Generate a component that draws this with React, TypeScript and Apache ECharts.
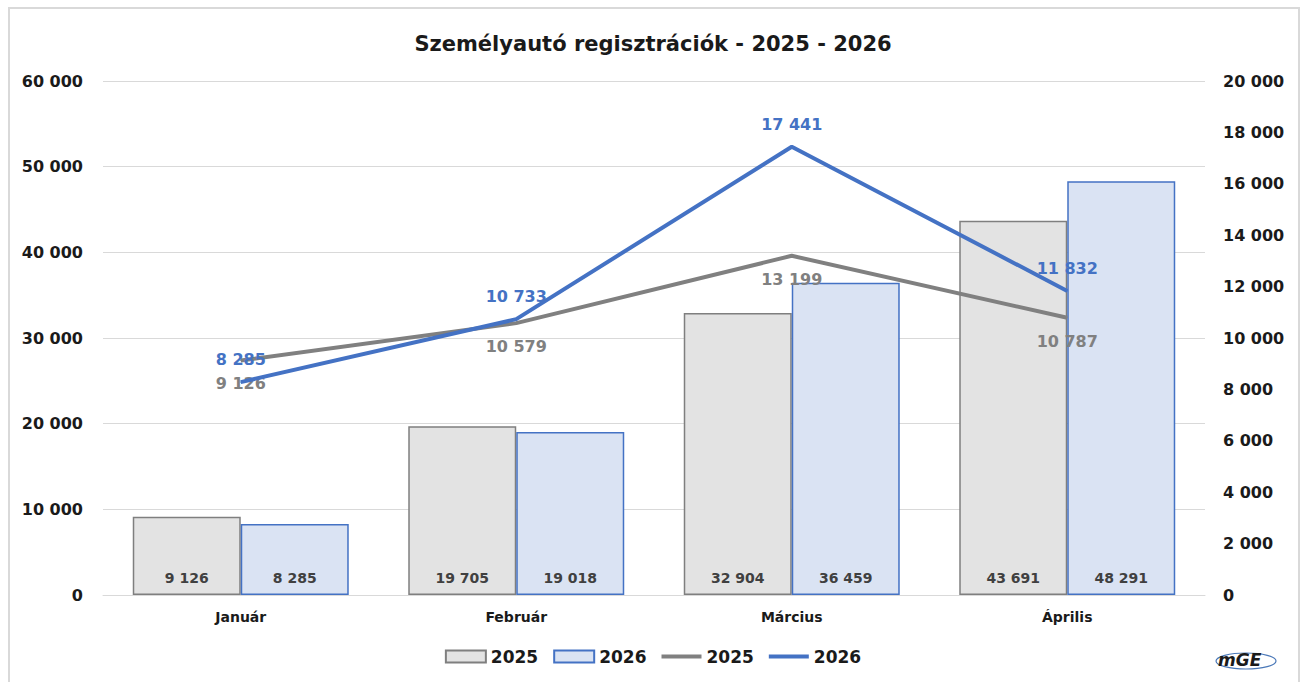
import React, { useEffect, useRef } from "react";
import * as echarts from "echarts";

const months = ["Január", "Február", "Március", "Április"];
const bars2025 = [9126, 19705, 32904, 43691];
const bars2026 = [8285, 19018, 36459, 48291];
const line2025 = [9126, 10579, 13199, 10787];
const line2026 = [8285, 10733, 17441, 11832];

const FONT = "'DejaVu Sans', sans-serif";
const fmt = (v: number) => String(Math.round(v)).replace(/\B(?=(\d{3})+(?!\d))/g, " ");
const LINE_ICON = "path://M0,0 L40,0 L40,4 L0,4 Z";

export default function App() {
  const ref = useRef<HTMLDivElement>(null);
  useEffect(() => {
    if (!ref.current) return;
    const chart = echarts.init(ref.current, null, { renderer: "svg" });
    chart.setOption({
      animation: false,
      backgroundColor: "#ffffff",
      textStyle: { fontFamily: FONT },
      title: {
        text: "Személyautó regisztrációk - 2025 - 2026",
        left: "center",
        top: 28,
        textStyle: { fontFamily: FONT, fontSize: 21, fontWeight: "bold", color: "#1a1a1a" },
      },
      grid: { left: 103, right: 101, top: 81, bottom: 87 },
      legend: {
        bottom: 12,
        left: "center",
        itemWidth: 40,
        itemHeight: 12,
        itemGap: 15,
        textStyle: { fontFamily: FONT, fontSize: 17, fontWeight: "bold", color: "#1a1a1a" },
        data: [
          { name: "2025 ", icon: "rect" },
          { name: "2026 ", icon: "rect" },
          { name: "2025", icon: LINE_ICON },
          { name: "2026", icon: LINE_ICON },
        ],
        formatter: (n: string) => n.trim(),
      },
      xAxis: {
        type: "category",
        data: months,
        axisLine: { show: true, lineStyle: { color: "#d9d9d9", width: 1 } },
        axisTick: { show: false },
        axisLabel: { fontFamily: FONT, fontSize: 14, fontWeight: "bold", color: "#1a1a1a", margin: 15 },
      },
      yAxis: [
        {
          type: "value",
          min: 0,
          max: 60000,
          interval: 10000,
          axisLine: { show: false },
          axisTick: { show: false },
          splitLine: { lineStyle: { color: "#d9d9d9", width: 1 } },
          axisLabel: {
            fontFamily: FONT,
            fontSize: 16,
            fontWeight: "bold",
            color: "#1a1a1a",
            margin: 20,
            formatter: (v: number) => fmt(v),
          },
        },
        {
          type: "value",
          min: 0,
          max: 20000,
          interval: 2000,
          axisLine: { show: false },
          axisTick: { show: false },
          splitLine: { show: false },
          axisLabel: {
            fontFamily: FONT,
            fontSize: 16,
            fontWeight: "bold",
            color: "#1a1a1a",
            margin: 18,
            formatter: (v: number) => fmt(v),
          },
        },
      ],
      series: [
        {
          name: "2025 ",
          type: "bar",
          data: bars2025,
          barGap: "0%",
          barCategoryGap: "21.6%",
          itemStyle: { color: "#e3e3e3", borderColor: "#7f7f7f", borderWidth: 1.5 },
          label: {
            show: true,
            position: "insideBottom",
            distance: 10,
            fontFamily: FONT,
            fontSize: 14,
            fontWeight: "bold",
            color: "#404040",
            formatter: (p: any) => fmt(p.value),
          },
        },
        {
          name: "2026 ",
          type: "bar",
          data: bars2026,
          itemStyle: { color: "#dae3f3", borderColor: "#4472c4", borderWidth: 1.5 },
          label: {
            show: true,
            position: "insideBottom",
            distance: 10,
            fontFamily: FONT,
            fontSize: 14,
            fontWeight: "bold",
            color: "#404040",
            formatter: (p: any) => fmt(p.value),
          },
        },
        {
          name: "2025",
          type: "line",
          yAxisIndex: 1,
          data: line2025,
          symbol: "circle",
          symbolSize: 1,
          lineStyle: { color: "#808080", width: 4 },
          itemStyle: { color: "#808080" },
          z: 3,
          label: {
            show: true,
            position: "bottom",
            distance: 15,
            fontFamily: FONT,
            fontSize: 16,
            fontWeight: "bold",
            color: "#808080",
            formatter: (p: any) => fmt(p.value),
          },
        },
        {
          name: "2026",
          type: "line",
          yAxisIndex: 1,
          data: line2026,
          symbol: "circle",
          symbolSize: 1,
          lineStyle: { color: "#4472c4", width: 4 },
          itemStyle: { color: "#4472c4" },
          z: 4,
          label: {
            show: true,
            position: "top",
            distance: 14,
            fontFamily: FONT,
            fontSize: 16,
            fontWeight: "bold",
            color: "#4472c4",
            formatter: (p: any) => fmt(p.value),
          },
        },
      ],
      graphic: [
        {
          type: "rect",
          shape: { x: 9, y: 8, width: 1290, height: 700 },
          style: { fill: "none", stroke: "#d9d9d9", lineWidth: 2 },
          silent: true,
        },
        {
          type: "ellipse",
          shape: { cx: 1246, cy: 661, rx: 30, ry: 8 },
          style: { fill: "none", stroke: "#4a78b8", lineWidth: 1.2 },
        },
        {
          type: "text",
          x: 1218,
          y: 651,
          style: {
            text: "mGE",
            fontFamily: FONT,
            fontSize: 17,
            fontStyle: "italic",
            fontWeight: "bold",
            fill: "#1a1a1a",
          },
        },
      ],
    });
    return () => chart.dispose();
  }, []);
  return <div ref={ref} style={{ width: 1306, height: 682, position: "absolute", left: 0, top: 0 }} />;
}
